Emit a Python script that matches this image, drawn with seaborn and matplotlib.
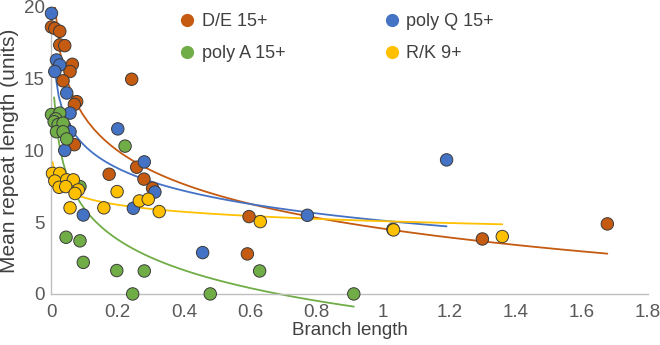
import numpy as np
import pandas as pd
import matplotlib
matplotlib.use("Agg")
import matplotlib.pyplot as plt
import seaborn as sns
from matplotlib.lines import Line2D
from matplotlib.patches import Rectangle

# data
de_x = [0.0, 0.01, 0.025, 0.025, 0.04, 0.063, 0.056, 0.035, 0.242, 0.076, 0.069, 0.069,
        0.257, 0.174, 0.279, 0.305, 0.596, 0.591, 1.03, 1.30, 1.677]
de_y = [18.6, 18.5, 18.3, 17.35, 17.3, 16.0, 15.5, 14.85, 14.96, 13.4, 13.2, 10.4,
        8.83, 8.34, 8.0, 7.37, 5.39, 2.79, 4.5, 3.83, 4.88]

q_x = [0.0, 0.015, 0.025, 0.01, 0.046, 0.056, 0.04, 0.056, 0.04, 0.2, 0.28, 0.312,
       0.096, 0.247, 0.456, 0.772, 1.192]
q_y = [19.55, 16.3, 15.95, 15.5, 14.0, 12.6, 11.66, 11.3, 10.0, 11.5, 9.2, 7.1,
       5.5, 5.97, 2.88, 5.48, 9.34]

a_x = [0.0, 0.025, 0.013, 0.008, 0.02, 0.035, 0.015, 0.035, 0.046, 0.222, 0.086, 0.044,
       0.086, 0.096, 0.197, 0.28, 0.245, 0.479, 0.628, 0.912]
a_y = [12.5, 12.6, 12.2, 12.0, 11.8, 11.9, 11.3, 11.3, 10.8, 10.3, 7.48, 3.95,
       3.7, 2.2, 1.63, 1.6, 0.0, 0.0, 1.6, 0.0]

rk_x = [0.003, 0.025, 0.01, 0.046, 0.066, 0.023, 0.043, 0.081, 0.071, 0.198, 0.056, 0.158,
        0.265, 0.292, 0.325, 0.63, 1.032, 1.36]
rk_y = [8.4, 8.4, 7.87, 7.95, 7.95, 7.43, 7.48, 7.25, 7.0, 7.13, 6.0, 6.0,
        6.48, 6.6, 5.74, 5.04, 4.46, 4.0]

names = ["D/E 15+", "poly Q 15+", "poly A 15+", "R/K 9+"]
colors = ["#C55A11", "#4472C4", "#70AD47", "#FFC000"]
series = [(de_x, de_y), (q_x, q_y), (a_x, a_y), (rk_x, rk_y)]

df = pd.concat([pd.DataFrame({"x": sx, "y": sy, "series": n})
                for n, (sx, sy) in zip(names, series)], ignore_index=True)

sns.set_style("white")
plt.rcParams["font.family"] = ["Liberation Sans", "DejaVu Sans"]

fig = plt.figure(figsize=(6.6, 3.45), dpi=100)
ax = fig.add_axes([0.078, 0.148, 0.904, 0.832])

# log trend lines (x = 0 can't go into a log fit); allowed to run a bit below the axis
clip = Rectangle((0, -0.08), 1, 1.08, transform=ax.transAxes, visible=False)
for n, c in zip(names, colors):
    sub = df[(df.series == n) & (df.x > 0)]
    sns.regplot(data=sub, x="x", y="y", logx=True, scatter=False, ci=None,
                color=c, line_kws=dict(lw=1.3), ax=ax)
    ax.lines[-1].set_clip_path(clip)

sns.scatterplot(data=df, x="x", y="y", hue="series", hue_order=names, palette=colors,
                s=80, edgecolor="#3a3a3a", linewidth=0.7, legend=False, ax=ax,
                clip_on=False, zorder=3)

ax.set_xlim(0, 1.8)
ax.set_ylim(0, 20)
ax.set_xticks(np.arange(0, 1.81, 0.2))
ax.set_xticklabels(["0", "0.2", "0.4", "0.6", "0.8", "1", "1.2", "1.4", "1.6", "1.8"])
ax.set_yticks([0, 5, 10, 15, 20])
for s in ["top", "right"]:
    ax.spines[s].set_visible(False)
for s in ["left", "bottom"]:
    ax.spines[s].set_color("#BFBFBF")
    ax.spines[s].set_linewidth(1)
ax.tick_params(axis="both", length=3, color="#BFBFBF", labelsize=13.5, labelcolor="#595959")
ax.tick_params(axis="x", pad=4)
ax.tick_params(axis="y", pad=2)
ax.set_xlabel("Branch length", fontsize=13.5, color="#404040", labelpad=1)
ax.set_ylabel("Mean repeat length (units)", fontsize=15, color="#404040", labelpad=3)

order = [0, 2, 1, 3]
handles = [Line2D([], [], ls="", marker="o", ms=8.5, color=colors[i], mec=colors[i]) for i in order]
ax.legend(handles, [names[i] for i in order], ncol=2, loc="upper left",
          bbox_to_anchor=(0.182, 1.035), frameon=False, fontsize=13, labelcolor="#404040",
          handletextpad=0.2, handlelength=1.2, columnspacing=5.3, labelspacing=0.85)

fig.savefig("out.png", dpi=100)
